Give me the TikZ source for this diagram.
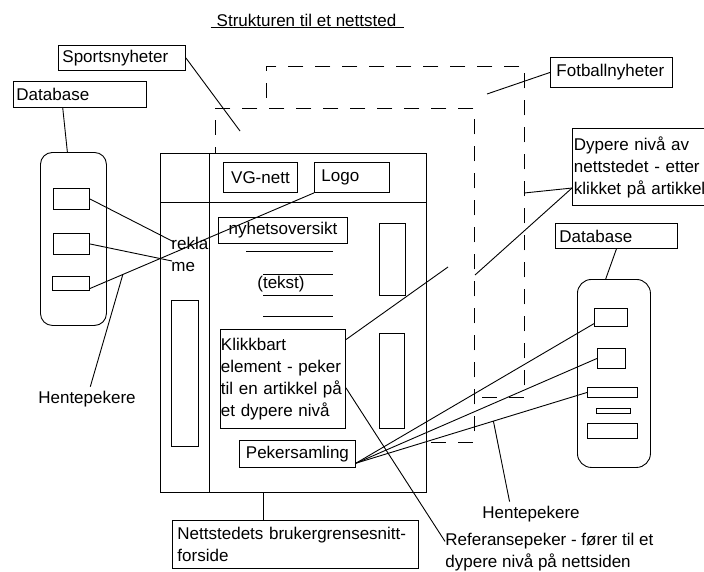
\documentclass[tikz,border=0pt]{standalone}
\usepackage{fontspec}
\setmainfont{Liberation Sans}
\usetikzlibrary{calc}
\newcommand\diafont{\fontsize{17}{22}\selectfont}

\begin{document}
\begin{tikzpicture}[x=1pt,y=-1pt,line width=0.9pt,
    box/.style={draw,fill=white,anchor=north west,inner sep=0pt,inner xsep=4pt,align=left,font=\diafont},
    slot/.style={draw,fill=white,anchor=north west,inner sep=0pt},
    page/.style={draw,fill=white,anchor=north west,inner sep=0pt,dash pattern=on 15pt off 12pt},
    txt/.style={inner sep=0pt,align=left,font=\diafont}]
    \useasboundingbox[fill=white] (0,0) rectangle (704,571);
    \node[txt,anchor=base] (title) at (307.5,26) {\underline{\hspace{6pt}Strukturen til et nettsted\hspace{8pt}}};
    \node[page,minimum width=258pt,minimum height=331pt] (fpage) at (266,66) {};
    \node[page,minimum width=259pt,minimum height=334pt] (spage) at (215,108) {};
    \node[slot,minimum width=266pt,minimum height=339pt] (front) at (160,153) {};
    \draw (front.north west) ++(49,0) -- ++(0,339);
    \draw (front.north west) ++(0,49) -- ++(266,0);
    \node[slot,minimum width=27pt,minimum height=146pt] (adL) at (171,300) {};
    \node[slot,minimum width=26pt,minimum height=72pt] (adR1) at (379,223) {};
    \node[slot,minimum width=25pt,minimum height=95pt] (adR2) at (379,333) {};
    \foreach \y/\x in {251/246,274/263,295/263,316/263} \draw (\x,\y) -- (333,\y);
    \node[txt] (tekst) at (281,284) {(tekst)};
    \node[box,minimum width=74pt,minimum height=30pt,align=center] (vg) at (223,162) {VG-nett};
    \node[box,text width=61pt,inner xsep=7pt,minimum height=30pt] (logo) at (314,162) {Logo};
    \node[box,minimum width=129pt,minimum height=26pt,align=center] (nyh) at (218,217) {nyhetsoversikt};
    \node[box,text width=124pt,inner xsep=0.5pt,minimum height=99pt] (klikk) at (220,329) {Klikkbart\\element - peker\\til en artikkel på\\et dypere nivå};
    \node[box,minimum width=116pt,minimum height=27pt,align=center] (peker) at (239,440) {Pekersamling};
    \node[box,text width=236pt,inner xsep=5pt,minimum height=48pt] (nett) at (172,520) {Nettstedets brukergrensesnitt-\\forside};
    \node[box,text width=119pt,minimum height=25pt] (sport) at (58,45) {Sportsnyheter};
    \node[box,text width=127pt,inner xsep=3pt,minimum height=26pt] (dbL) at (13,81) {Database};
    \node[box,text width=110pt,inner xsep=6pt,minimum height=30pt] (fotl) at (550,57) {Fotballnyheter};
    \node[box,text width=134pt,inner xsep=1.5pt,minimum height=77pt] (dyp) at (572,128) {Dypere nivå av\\nettstedet - etter\\klikket på artikkel};
    \node[box,text width=114pt,minimum height=25pt] (dbR) at (555,223) {Database};
    \node[slot,rounded corners=12pt,minimum width=66pt,minimum height=173pt] (dbLc) at (40,152) {};
    \node[slot,minimum width=36pt,minimum height=21pt] (dbL1) at (53,188) {};
    \node[slot,minimum width=36pt,minimum height=21pt] (dbL2) at (53,233) {};
    \node[slot,minimum width=37pt,minimum height=14pt] (dbL3) at (52,276) {};
    \node[slot,rounded corners=14pt,minimum width=73pt,minimum height=188pt] (dbRc) at (577,279) {};
    \node[slot,minimum width=33pt,minimum height=18pt] (dbR1) at (594,308) {};
    \node[slot,minimum width=28pt,minimum height=20pt] (dbR2) at (597,348) {};
    \node[slot,minimum width=50pt,minimum height=10pt] (dbR3) at (587,387) {};
    \node[slot,minimum width=34pt,minimum height=5pt] (dbR4) at (596,408) {};
    \node[slot,minimum width=50pt,minimum height=15pt] (dbR5) at (587,423) {};
    \node[txt,anchor=north west] (rek) at (171,237) {rekla\\me};
    \node[txt,inner sep=4pt] (hentL) at (87,399) {Hentepekere};
    \node[txt,inner sep=4pt] (hentR) at (531,514) {Hentepekere};
    \node[txt,anchor=north west] (ref) at (445,533) {Referansepeker - fører til et\\dypere nivå på nettsiden};
    \coordinate (sportEnd) at (240,131);
    \coordinate (fotEnd) at (487,94);
    \coordinate (dypA) at (524,193);
    \coordinate (dypB) at (475,275);
    \coordinate (klikkEnd) at (448,267);
    \coordinate (rekA) at (174,242);
    \coordinate (rekB) at (172,261);
    \coordinate (lnk) at (263,0);
    \draw (dbL.-142) -- (dbLc.94);
    \draw (dbR.south) -- (dbRc.95);
    \draw (sport.east) -- (sportEnd);
    \draw (fotl.west) -- (fotEnd);
    \draw (dyp.197) -- (dypA);
    \draw (dyp.197) -- (dypB);
    \draw (klikk.32) -- (klikkEnd);
    \draw (klikk.-8) -- (ref.174);
    \draw (front.south -| lnk) -- (nett.north -| lnk);
    \draw (dbL1.east) -- (rekA);
    \draw (dbL2.east) -- (rekB);
    \draw (dbL3.-15) -- (logo.south west);
    \draw (hentL.75) -- ($(dbL3.-15)!0.147!(logo.south west)$);
    \foreach \s in {dbR1.200,dbR2.west,dbR3.west} \draw (peker.-9) -- (\s);
    \draw (hentR.150) -- ($(peker.-9)!0.595!(dbR3.west)$);
  \end{tikzpicture}
\end{document}
